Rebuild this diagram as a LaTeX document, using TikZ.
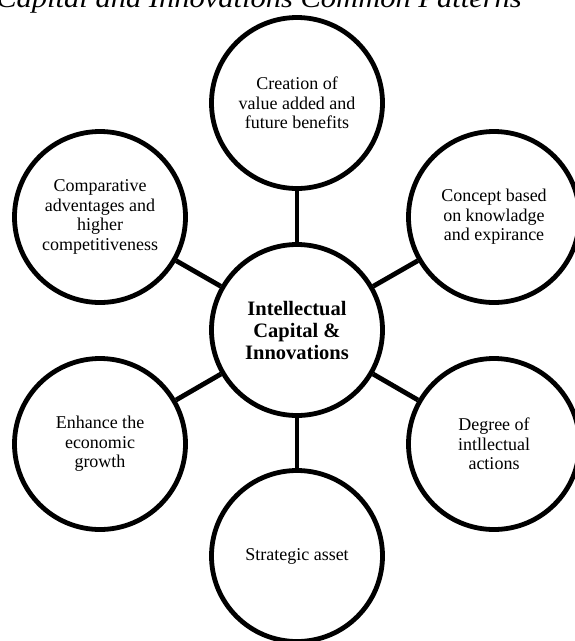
\documentclass[tikz,border=0pt]{standalone}
\usepackage{fontspec}
\setmainfont{Liberation Serif}
\begin{document}
\begin{tikzpicture}[x=1pt,y=1pt,
  bubble/.style={circle,draw=black,line width=4.8pt,fill=white,minimum size=171pt,inner sep=0pt,align=center,font=\fontsize{18}{19.5}\selectfont},
  hub/.style={bubble,font=\fontsize{20.5}{22}\selectfont\bfseries},
  link/.style={line width=4.8pt}]
\useasboundingbox (0,0) rectangle (574,-641);
\node[anchor=base east,inner sep=0pt,font=\fontsize{27}{30}\selectfont\itshape] (title) at (522,-7) {\scalebox{1.13}[1]{Capital and Innovations Common Patterns}};
\node[hub] (c) at (297,-330) {Intellectual\\Capital \&\\Innovations};
\node[bubble] (t) at (297,-103) {Creation of\\value added and\\future benefits};
\node[bubble] (ur) at (494,-217) {Concept based\\on knowladge\\and expirance};
\node[bubble] (lr) at (494,-444) {Degree of\\intllectual\\actions};
\node[bubble] (b) at (297,-556) {Strategic asset};
\node[bubble] (ll) at (100,-444) {Enhance the\\economic\\growth};
\node[bubble] (ul) at (100,-217) {Comparative\\adventages and\\higher\\competitiveness};
\foreach \n in {t,ur,lr,b,ll,ul} \draw[link] (c) -- (\n);
\end{tikzpicture}
\end{document}
